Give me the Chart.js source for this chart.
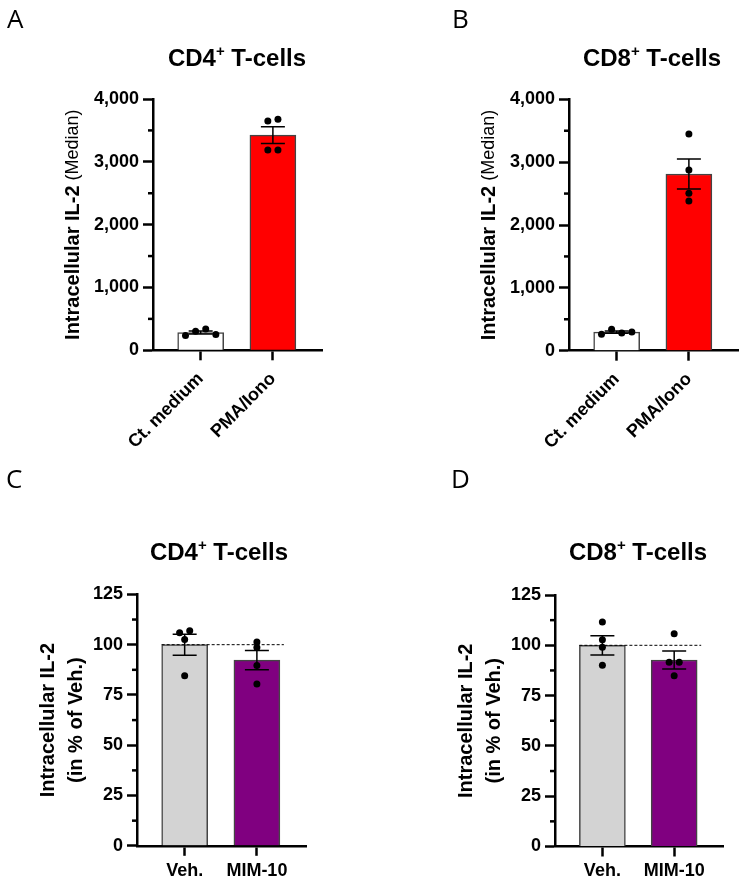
<!DOCTYPE html>
<html>
<head>
<meta charset="utf-8">
<title>Intracellular IL-2</title>
<script src="https://cdn.jsdelivr.net/npm/chart.js@4.4.0/dist/chart.umd.min.js"></script>
<style>
    html, body { margin: 0; padding: 0; background: #fff; }
    #page { position: relative; width: 750px; height: 880px; overflow: hidden;
            font-family: "Liberation Sans", Arial, sans-serif; color: #000; }
    canvas { position: absolute; }
    .letter { position: absolute; font-family: "Open Sans", sans-serif; font-size: 26px; line-height: 26px; }
    .title { position: absolute; width: 300px; text-align: center; font-weight: bold;
             font-size: 24px; line-height: 24px; white-space: nowrap; }
    .title .sup { font-size: 15px; position: relative; top: -10px; }
</style>
</head>
<body>
<div id="page">
    <canvas id="chartA" width="375" height="460" style="left:0;top:0"></canvas>
    <canvas id="chartB" width="375" height="460" style="left:375px;top:0"></canvas>
    <canvas id="chartC" width="375" height="440" style="left:0;top:440px"></canvas>
    <canvas id="chartD" width="375" height="440" style="left:375px;top:440px"></canvas>

    <div class="letter" style="left:7px;top:5px">A</div>
    <div class="letter" style="left:452px;top:5px">B</div>
    <div class="letter" style="left:6px;top:465px">C</div>
    <div class="letter" style="left:451px;top:465px">D</div>

    <div class="title" style="left:87px;top:46px">CD4<span class="sup">+</span> T-cells</div>
    <div class="title" style="left:502px;top:46px">CD8<span class="sup">+</span> T-cells</div>
    <div class="title" style="left:69px;top:540px">CD4<span class="sup">+</span> T-cells</div>
    <div class="title" style="left:488px;top:540px">CD8<span class="sup">+</span> T-cells</div>
</div>

<script>
// Panels A / B: IL-2 median, control medium vs PMA/Iono
const stimLabels = ['Ct. medium', 'PMA/Iono'];
const cd4StimMeans = [282, 3426];
const cd4StimSem = [24, 133];
const cd4StimPoints = [[234, 303, 339, 250], [3649, 3677, 3187, 3187]];
const cd8StimMeans = [295, 2811];
const cd8StimSem = [17, 238];
const cd8StimPoints = [[261, 340, 282, 298], [3448, 2875, 2504, 2382]];
const medianTicks = [0, 1000, 2000, 3000, 4000];

// Panels C / D: % of vehicle
const drugLabels = ['Veh.', 'MIM-10'];
const cd4DrugMeans = [100, 92.3];
const cd4DrugSem = [5.2, 4.8];
const cd4DrugPoints = [[105.9, 106.9, 102.6, 84.5], [101.3, 98.6, 89.7, 80.4]];
const cd8DrugMeans = [100, 92.7];
const cd8DrugSem = [4.8, 4.5];
const cd8DrugPoints = [[111.6, 102.7, 99.0, 90.1], [105.8, 91.6, 91.6, 84.9]];
const percentTicks = [0, 25, 50, 75, 100, 125];
const vehicleLevel = 100;

const FONT = '"Liberation Sans", Arial, sans-serif';
Chart.defaults.font.family = FONT;
Chart.defaults.color = '#000';

// points closer than ~2% of the axis are set side by side, like the prism scatter
function spreadPoints(values, axisMax) {
    const limit = axisMax * 0.02;
    const order = values.map((v, i) => i).sort((a, b) => values[b] - values[a]);
    const groups = [];
    order.forEach(i => {
        const last = groups[groups.length - 1];
        if (last && values[last[last.length - 1]] - values[i] < limit) last.push(i);
        else groups.push([i]);
    });
    const offsets = values.map(() => 0);
    groups.forEach(g => {
        g.sort((a, b) => a - b);
        g.forEach((idx, k) => { offsets[idx] = (k - (g.length - 1) / 2) * 0.14; });
    });
    return offsets;
}

// error bars, dashed vehicle line, minor ticks and the y axis title
const panelDecor = {
    id: 'panelDecor',
    afterDatasetDraw(chart, args, opts) {
        if (args.index !== 0) return;
        const { ctx, scales: { x, y } } = chart;
        const half = opts.barWidth / 2;
        ctx.save();
        if (opts.refLine != null) {
            const py = y.getPixelForValue(opts.refLine);
            ctx.strokeStyle = '#000';
            ctx.lineWidth = 1;
            ctx.setLineDash([3, 2]);
            ctx.beginPath();
            ctx.moveTo(x.getPixelForValue(0) - half, py);
            ctx.lineTo(x.getPixelForValue(opts.means.length - 1) + half + 4, py);
            ctx.stroke();
            ctx.setLineDash([]);
        }
        ctx.strokeStyle = '#000';
        ctx.lineWidth = 1.5;
        opts.means.forEach((m, i) => {
            const px = x.getPixelForValue(i);
            const top = y.getPixelForValue(m + opts.sem[i]);
            const bot = y.getPixelForValue(m - opts.sem[i]);
            ctx.beginPath();
            ctx.moveTo(px, top); ctx.lineTo(px, bot);
            ctx.moveTo(px - 12, top); ctx.lineTo(px + 12, top);
            ctx.moveTo(px - 12, bot); ctx.lineTo(px + 12, bot);
            ctx.stroke();
        });
        ctx.restore();
    },
    afterDraw(chart, args, opts) {
        const { ctx, chartArea, scales: { y } } = chart;
        ctx.save();
        // short minor ticks half way between the labelled ones
        ctx.strokeStyle = '#000';
        ctx.lineWidth = 2.5;
        for (let i = 0; i < opts.ticks.length - 1; i++) {
            const py = y.getPixelForValue((opts.ticks[i] + opts.ticks[i + 1]) / 2);
            ctx.beginPath();
            ctx.moveTo(chartArea.left - 5, py);
            ctx.lineTo(chartArea.left, py);
            ctx.stroke();
        }
        // rotated axis title
        ctx.translate(chartArea.left, (chartArea.top + chartArea.bottom) / 2);
        ctx.rotate(-Math.PI / 2);
        ctx.fillStyle = '#000';
        ctx.textBaseline = 'middle';
        opts.title.forEach(line => {
            let total = 0;
            line.parts.forEach(p => { ctx.font = p.font; total += ctx.measureText(p.text).width; });
            let pos = -total / 2;
            ctx.textAlign = 'left';
            line.parts.forEach(p => {
                ctx.font = p.font;
                ctx.fillText(p.text, pos, line.offset);
                pos += ctx.measureText(p.text).width;
            });
        });
        ctx.restore();
    }
};

function buildPanel(canvasId, cfg) {
    const canvas = document.getElementById(canvasId);
    const H = canvas.height;
    const W = canvas.width;
    const yMax = cfg.ticks[cfg.ticks.length - 1];
    const barWidth = 46;

    const points = [];
    cfg.points.forEach((vals, i) => {
        const off = spreadPoints(vals, yMax);
        vals.forEach((v, k) => points.push({ x: i + off[k], y: v }));
    });

    return new Chart(canvas, {
        type: 'bar',
        data: {
            datasets: [{
                type: 'bar',
                order: 1,
                data: cfg.means.map((m, i) => ({ x: i, y: m })),
                backgroundColor: cfg.colors,
                borderColor: '#444',
                borderWidth: 1.5,
                barThickness: barWidth
            }, {
                type: 'scatter',
                order: 0,
                data: points,
                pointRadius: 3.5,
                pointBackgroundColor: '#000',
                pointBorderWidth: 0,
                showLine: false
            }]
        },
        options: {
            responsive: false,
            animation: false,
            layout: { padding: { top: cfg.top, right: W - cfg.right, left: 0, bottom: 0 } },
            plugins: {
                legend: { display: false },
                tooltip: { enabled: false },
                panelDecor: {
                    means: cfg.means,
                    sem: cfg.sem,
                    ticks: cfg.ticks,
                    refLine: cfg.refLine,
                    barWidth: barWidth,
                    title: cfg.title
                }
            },
            scales: {
                x: {
                    type: 'linear',
                    min: -0.66,
                    max: 1.68,
                    offset: false,
                    afterBuildTicks: s => { s.ticks = cfg.labels.map((_, i) => ({ value: i })); },
                    afterFit: s => { s.height = H - cfg.bottom; },
                    ticks: {
                        callback: v => cfg.labels[v],
                        font: { size: 18, weight: 'bold' },
                        color: '#000',
                        autoSkip: false,
                        minRotation: cfg.rotation,
                        maxRotation: cfg.rotation,
                        padding: cfg.rotation ? 8 : 4
                    },
                    grid: {
                        display: true, offset: false, drawOnChartArea: false,
                        drawTicks: true, tickLength: 10, tickWidth: 2.5, tickColor: '#000'
                    },
                    border: { display: true, color: '#000', width: 2.5 }
                },
                y: {
                    type: 'linear',
                    min: 0,
                    max: yMax,
                    afterBuildTicks: s => { s.ticks = cfg.ticks.map(v => ({ value: v })); },
                    afterFit: s => { s.width = cfg.axisX; },
                    ticks: {
                        callback: v => v.toLocaleString('en-US'),
                        font: { size: 18, weight: 'bold' },
                        color: '#000',
                        padding: 4
                    },
                    grid: {
                        drawOnChartArea: false, drawTicks: true,
                        tickLength: 10, tickWidth: 2.5, tickColor: '#000'
                    },
                    border: { display: true, color: '#000', width: 2.5 }
                }
            }
        },
        plugins: [panelDecor]
    });
}

const medianTitle = [{
    offset: -80,
    parts: [
        { text: 'Intracellular IL-2', font: 'bold 20px ' + FONT },
        { text: ' (Median)', font: '18px ' + FONT }
    ]
}];
const percentTitle = [
    { offset: -89, parts: [{ text: 'Intracellular IL-2', font: 'bold 20px ' + FONT }] },
    { offset: -61, parts: [{ text: '(in % of Veh.)', font: 'bold 20px ' + FONT }] }
];

document.addEventListener('DOMContentLoaded', function () {
    buildPanel('chartA', {
        labels: stimLabels, means: cd4StimMeans, sem: cd4StimSem, points: cd4StimPoints,
        ticks: medianTicks, colors: ['#ffffff', '#ff0000'], rotation: 45,
        axisX: 153, top: 99, bottom: 350.3, right: 322, title: medianTitle
    });
    buildPanel('chartB', {
        labels: stimLabels, means: cd8StimMeans, sem: cd8StimSem, points: cd8StimPoints,
        ticks: medianTicks, colors: ['#ffffff', '#ff0000'], rotation: 45,
        axisX: 194, top: 99.3, bottom: 350.7, right: 363, title: medianTitle
    });
    buildPanel('chartC', {
        labels: drugLabels, means: cd4DrugMeans, sem: cd4DrugSem, points: cd4DrugPoints,
        ticks: percentTicks, colors: ['#d3d3d3', '#800080'], rotation: 0, refLine: vehicleLevel,
        axisX: 137, top: 154.4, bottom: 405.8, right: 306, title: percentTitle
    });
    buildPanel('chartD', {
        labels: drugLabels, means: cd8DrugMeans, sem: cd8DrugSem, points: cd8DrugPoints,
        ticks: percentTicks, colors: ['#d3d3d3', '#800080'], rotation: 0, refLine: vehicleLevel,
        axisX: 180, top: 155, bottom: 406.5, right: 348, title: percentTitle
    });
});
</script>
</body>
</html>
